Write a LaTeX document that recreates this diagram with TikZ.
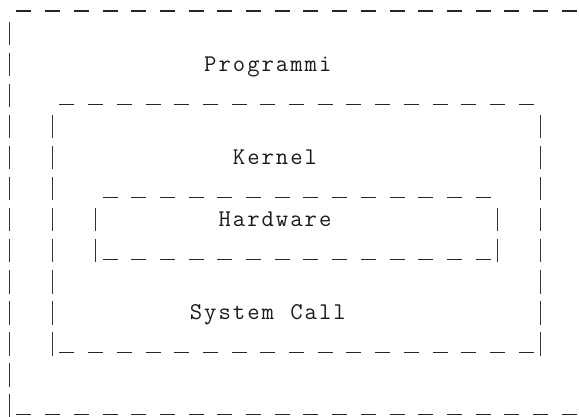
\documentclass[tikz,border=0pt]{standalone}
\def\xz{2.35}
\def\cw{14.35}
\def\rh{31.06}
\def\uo{11}
\newcommand{\myhline}[3]{\draw[hl] ({\xz+#2*\cw-0.3},{\uo+#1*\rh}) -- ({\xz+(#3+1)*\cw+0.35},{\uo+#1*\rh});}
\newcommand{\myvline}[3]{\draw[vl] ({\xz+(#1+0.5)*\cw},{\uo+#2*\rh-20.4}) -- ({\xz+(#1+0.5)*\cw},{\uo+#3*\rh+3});}
% set each character in a fixed-width cell, like the monospace grid of the picture
\def\cellspread#1{\cellspreadi#1\relax}
\def\cellspreadi#1{\ifx#1\relax\else\makebox[14.35pt]{#1}\expandafter\cellspreadi\fi}
\begin{document}
\begin{tikzpicture}[x=1pt,y=-1pt,
  hl/.style={draw=black!85, line width=1.25pt, dash pattern=on 15pt off 13.7pt},
  vl/.style={draw=black!80, line width=1.4pt, dash pattern=on 23.4pt off 7.66pt},
  lbl/.style={inner sep=0pt, outer sep=0pt, anchor=base west, text=black!90,
    font=\ttfamily\fontsize{24}{28}\selectfont}]
\useasboundingbox (0,0) rectangle (579,416);
% outer box (Programmi)
\myhline{0}{1}{39}
\myvline{0}{1}{13}
\myhline{13}{1}{39}
% kernel box
\myhline{3}{4}{36}
\myvline{3}{4}{11}
\myvline{37}{4}{11}
\myhline{11}{4}{36}
% hardware box
\myhline{6}{7}{33}
\myvline{6}{7}{8}
\myvline{34}{7}{8}
\myhline{8}{7}{33}
% labels
\node[lbl] (prog) at ({\xz+14*\cw},{\uo+2*\rh-2}) {\cellspread{Programmi}};
\node[lbl] (kern) at ({\xz+16*\cw},{\uo+5*\rh-2}) {\cellspread{Kernel}};
\node[lbl] (hw) at ({\xz+15*\cw},{\uo+7*\rh-2}) {\cellspread{Hardware}};
\node[lbl] (sc) at ({\xz+13*\cw},{\uo+10*\rh-2}) {\cellspread{System}\makebox[14.35pt]{ }\cellspread{Call}};
\end{tikzpicture}
\end{document}
